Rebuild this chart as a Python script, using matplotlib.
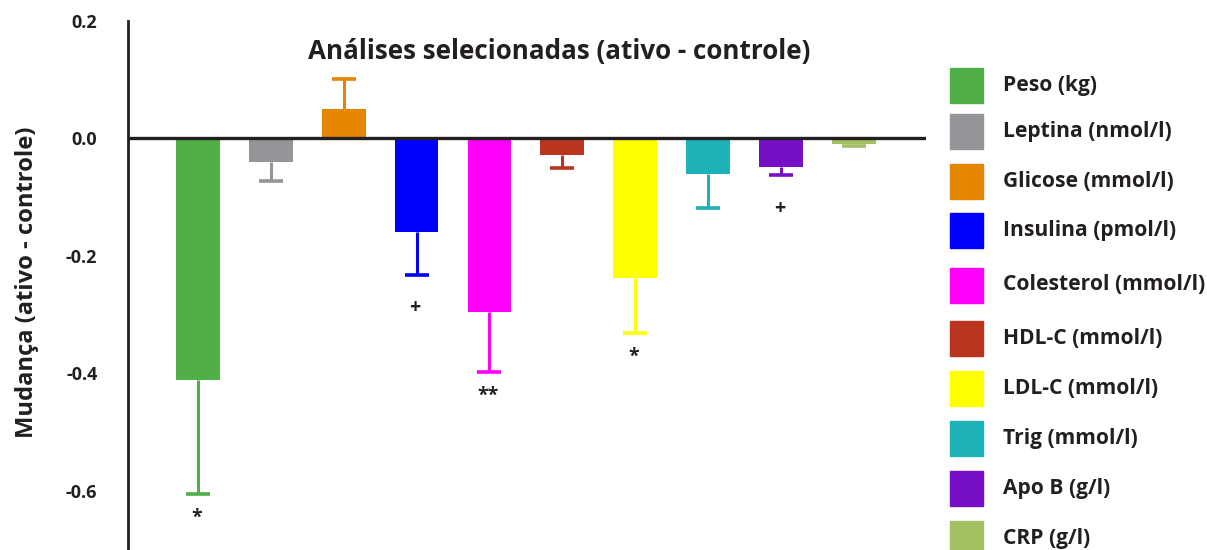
import matplotlib
matplotlib.use("Agg")
import matplotlib.pyplot as plt
from matplotlib.patches import Rectangle

categories = ["Peso (kg)", "Leptina (nmol/l)", "Glicose (mmol/l)", "Insulina (pmol/l)",
              "Colesterol (mmol/l)", "HDL-C (mmol/l)", "LDL-C (mmol/l)", "Trig (mmol/l)",
              "Apo B (g/l)", "CRP (g/l)"]
values = [-0.412, -0.040, 0.049, -0.160, -0.295, -0.029, -0.237, -0.061, -0.049, -0.010]
errors = [0.193, 0.032, 0.052, 0.072, 0.102, 0.022, 0.094, 0.057, 0.014, 0.003]
signif = ["*", "", "", "+", "**", "", "*", "", "+", ""]
colors = ["#50AF47", "#939598", "#E58600", "#0000FF", "#FF00FF", "#B93520",
          "#FFFF00", "#1CB2B8", "#770FC6", "#A3C163"]
yticks = [0.2, 0.0, -0.2, -0.4, -0.6]
ytick_labels = ["0.2", "0.0", "-0.2", "-0.4", "-0.6"]
title = "Análises selecionadas (ativo - controle)"
ylabel = "Mudança (ativo - controle)"

plt.rcParams['font.family'] = ['Open Sans', 'DejaVu Sans']
plt.rcParams['font.weight'] = 'bold'
TXT = "#231F20"

W, H = 1207, 550
fig = plt.figure(figsize=(W / 100, H / 100), dpi=100)
ax = fig.add_axes([128 / W, 0, (926 - 128) / W, 1 - 20.7 / H])

x = list(range(len(categories)))
ax.bar(x, values, width=0.6, color=colors, zorder=2)
for xi, v, e, c in zip(x, values, errors, colors):
    end = v - e if v < 0 else v + e
    ax.plot([xi, xi], [v, end], color=c, lw=2.2, zorder=1, solid_capstyle='butt')
    ax.plot([xi], [end], marker='_', markersize=17.5, markeredgewidth=2.6,
            color=c, zorder=1)
for xi, v, e, s in zip(x, values, errors, signif):
    if s:
        dy = -17 if s == "+" else -10
        ax.annotate(s, (xi, v - e), xytext=(-1, dy), textcoords='offset points',
                    ha='center', va='top', fontsize=14, color=TXT, fontweight='bold')

ax.axhline(0, color=TXT, lw=2.4, zorder=3)
ax.set_xlim(-0.96, 9.99)
ax.set_ylim(-0.7005, 0.1966)
ax.set_xticks([])
ax.set_yticks(yticks)
ax.set_yticklabels(ytick_labels, fontsize=13, color=TXT, fontweight='bold')
ax.tick_params(axis='y', length=0, pad=22)
for sp in ['top', 'right', 'bottom']:
    ax.spines[sp].set_visible(False)
ax.spines['left'].set_linewidth(2)
ax.spines['left'].set_color(TXT)

fig.text(559 / W, 1 - 51 / H, title, ha='center', va='center', fontsize=18.7,
         color=TXT, fontweight='bold')
fig.text(27 / W, 1 - 282 / H, ylabel, ha='center', va='center', rotation=90,
         fontsize=17.1, color=TXT, fontweight='bold')

legend_y = [85.5, 131, 181.5, 230.5, 285, 338.5, 388.5, 438.5, 488.5, 538.5]
for lab, c, yc in zip(categories, colors, legend_y):
    fig.patches.append(Rectangle((950 / W, 1 - (yc + 17.5) / H), 33 / W, 35 / H,
                                 transform=fig.transFigure, color=c, figure=fig))
    fig.text(1003 / W, 1 - yc / H, lab, ha='left', va='center', fontsize=15.1,
             color=TXT, fontweight='bold')

fig.savefig("out.png", dpi=100)
